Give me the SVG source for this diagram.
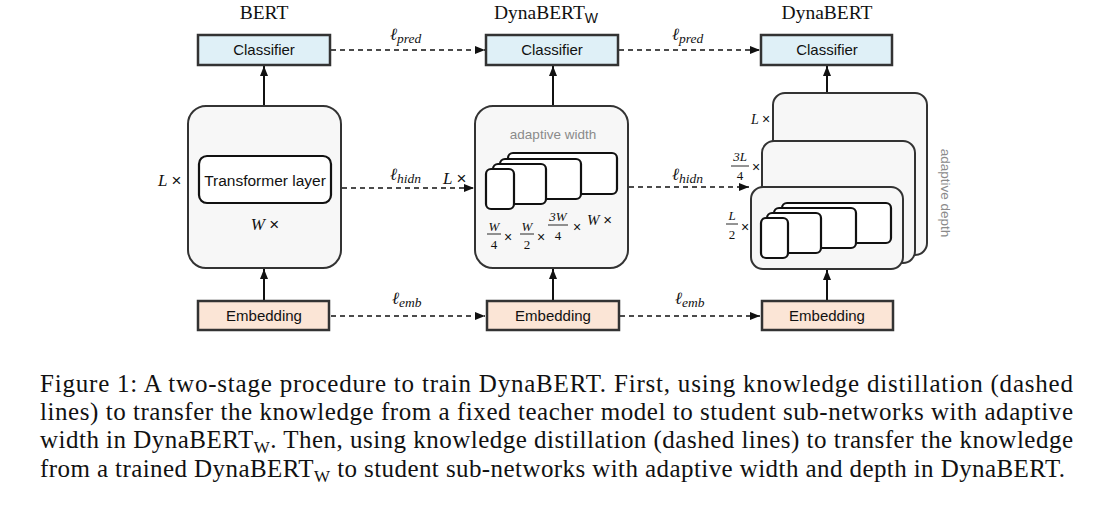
<svg xmlns="http://www.w3.org/2000/svg" width="1110" height="506" viewBox="0 0 1110 506">
<defs>
<marker id="ah" markerUnits="userSpaceOnUse" markerWidth="10" markerHeight="8" refX="10" refY="4" orient="auto"><path d="M0,0 L10,4 L0,8 z" fill="#111"/></marker>
<style>
.title{font-family:"Liberation Serif",serif;font-size:19.5px;fill:#111;text-anchor:middle}
.sans{font-family:"Liberation Sans",Arial,sans-serif;fill:#111;text-anchor:middle}
.lab{font-size:15px}
.gray{font-family:"Liberation Sans",Arial,sans-serif;font-size:13.5px;fill:#8a8a8a;text-anchor:middle}
.cls{fill:#dff0f7;stroke:#333;stroke-width:2.5}
.emb{fill:#fbe5d6;stroke:#333;stroke-width:2.5}
.big{fill:#f7f7f7;stroke:#333;stroke-width:2}
.in{fill:#fff;stroke:#111;stroke-width:2.2}
.math{font-family:"Liberation Serif","DejaVu Serif",serif;font-style:italic;fill:#111}
.ell{font-family:"DejaVu Serif","Liberation Serif",serif;font-style:italic;font-size:17px;fill:#111}
.sub{font-family:"Liberation Serif",serif;font-style:italic;font-size:13.5px}
.fr{font-family:"Liberation Serif",serif;font-size:13px;fill:#111;text-anchor:middle}
.x{font-family:"Liberation Sans",sans-serif;font-size:14px;fill:#111;text-anchor:middle}
.frb{stroke:#111;stroke-width:0.9}
.solid{stroke:#111;stroke-width:2;fill:none}
.dash{stroke:#111;stroke-width:1.5;stroke-dasharray:5,4;fill:none}
.cap{font-family:"Liberation Serif","Times New Roman",serif;font-size:25px;fill:#111}
</style>
</defs>
<rect width="1110" height="506" fill="#fff"/>

<g id="titles">
<text class="title" x="264" y="19">BERT</text>
<text class="title" x="546" y="19">DynaBERT<tspan font-family="Liberation Sans, sans-serif" font-size="14" dy="4">W</tspan></text>
<text class="title" x="827" y="19">DynaBERT</text>
</g>

<g id="connectors">
<line class="solid" x1="264" y1="106" x2="264" y2="66" marker-end="url(#ah)"/>
<line class="solid" x1="264" y1="301" x2="264" y2="269" marker-end="url(#ah)"/>
<line class="solid" x1="553" y1="106" x2="553" y2="66" marker-end="url(#ah)"/>
<line class="solid" x1="553" y1="301" x2="553" y2="269" marker-end="url(#ah)"/>
<line class="solid" x1="827" y1="93" x2="827" y2="66" marker-end="url(#ah)"/>
<line class="solid" x1="827" y1="301" x2="827" y2="270" marker-end="url(#ah)"/>
<line class="dash" x1="331" y1="50" x2="485" y2="50" marker-end="url(#ah)"/>
<line class="dash" x1="619" y1="50" x2="760" y2="50" marker-end="url(#ah)"/>
<line class="dash" x1="342" y1="188" x2="474" y2="188" marker-end="url(#ah)"/>
<line class="dash" x1="629" y1="187" x2="749" y2="187" marker-end="url(#ah)"/>
<line class="dash" x1="331" y1="316" x2="485" y2="316" marker-end="url(#ah)"/>
<line class="dash" x1="620" y1="316" x2="760" y2="316" marker-end="url(#ah)"/>
<text class="ell" x="390" y="40">ℓ<tspan class="sub" dy="3">pred</tspan></text>
<text class="ell" x="672" y="40">ℓ<tspan class="sub" dy="3">pred</tspan></text>
<text class="ell" x="390" y="180">ℓ<tspan class="sub" dy="3">hidn</tspan></text>
<text class="ell" x="672" y="180">ℓ<tspan class="sub" dy="3">hidn</tspan></text>
<text class="ell" x="392" y="304">ℓ<tspan class="sub" dy="3">emb</tspan></text>
<text class="ell" x="675" y="304">ℓ<tspan class="sub" dy="3">emb</tspan></text>
</g>

<g id="bert-classifier">
<rect class="cls" x="198" y="35" width="132" height="30"/>
<text class="sans lab" x="264" y="55">Classifier</text>
</g>
<g id="dynaw-classifier">
<rect class="cls" x="486" y="35" width="132" height="30"/>
<text class="sans lab" x="552" y="55">Classifier</text>
</g>
<g id="dyna-classifier">
<rect class="cls" x="761" y="35" width="131" height="30"/>
<text class="sans lab" x="827" y="55">Classifier</text>
</g>

<g id="bert-embedding">
<rect class="emb" x="198" y="301" width="131" height="29"/>
<text class="sans lab" x="264" y="321">Embedding</text>
</g>
<g id="dynaw-embedding">
<rect class="emb" x="487" y="301" width="132" height="29"/>
<text class="sans lab" x="553" y="321">Embedding</text>
</g>
<g id="dyna-embedding">
<rect class="emb" x="762" y="301" width="131" height="29"/>
<text class="sans lab" x="827" y="321">Embedding</text>
</g>

<g id="bert-encoder">
<rect class="big" x="188" y="106" width="153" height="162" rx="18"/>
<rect class="in" x="199" y="156" width="132" height="47" rx="8"/>
<text class="sans" x="265" y="186" font-size="15.5">Transformer layer</text>
<text class="math" x="158" y="186" font-size="17">L <tspan font-style="normal" font-family="Liberation Sans, sans-serif">×</tspan></text>
<text class="math" x="265" y="230" font-size="17" text-anchor="middle">W <tspan font-style="normal" font-family="Liberation Sans, sans-serif">×</tspan></text>
</g>

<g id="dynaw-encoder">
<rect class="big" x="475" y="106" width="153" height="162" rx="18"/>
<text class="gray" x="553" y="139">adaptive width</text>
<rect class="in" x="508" y="153" width="109" height="41" rx="5"/>
<rect class="in" x="500" y="159" width="81" height="40" rx="5"/>
<rect class="in" x="493" y="164" width="53" height="40" rx="5"/>
<rect class="in" x="486" y="169" width="28" height="40" rx="5"/>
<text class="math" x="443" y="184" font-size="17">L <tspan font-style="normal" font-family="Liberation Sans, sans-serif">×</tspan></text>
<text class="fr" x="494" y="231" font-style="italic">W</text>
<line class="frb" x1="487" y1="234" x2="501" y2="234"/>
<text class="fr" x="494" y="249">4</text>
<text class="x" x="508" y="242">×</text>
<text class="fr" x="527" y="231" font-style="italic">W</text>
<line class="frb" x1="520" y1="234" x2="534" y2="234"/>
<text class="fr" x="527" y="249">2</text>
<text class="x" x="541" y="242">×</text>
<text class="fr" x="558" y="221" font-style="italic">3W</text>
<line class="frb" x1="548" y1="225" x2="568" y2="225"/>
<text class="fr" x="558" y="240">4</text>
<text class="x" x="577" y="232">×</text>
<text class="math" x="587" y="225" font-size="15">W <tspan font-style="normal" font-family="Liberation Sans, sans-serif">×</tspan></text>
</g>

<g id="dyna-encoder">
<rect class="big" x="773" y="93" width="154" height="162" rx="12"/>
<rect class="big" x="762" y="141" width="153" height="122" rx="12"/>
<rect class="big" x="751" y="187" width="152" height="82" rx="12"/>
<rect class="in" x="782" y="203" width="109" height="40" rx="5"/>
<rect class="in" x="774" y="208" width="82" height="40" rx="5"/>
<rect class="in" x="767" y="213" width="54" height="40" rx="5"/>
<rect class="in" x="761" y="218" width="27" height="40" rx="5"/>
<text class="math" x="751" y="124" font-size="14">L <tspan font-style="normal" font-family="Liberation Sans, sans-serif">×</tspan></text>
<text class="fr" x="740" y="161" font-style="italic">3L</text>
<line class="frb" x1="731" y1="166" x2="749" y2="166"/>
<text class="fr" x="740" y="180">4</text>
<text class="x" x="756" y="172">×</text>
<text class="fr" x="732" y="220" font-style="italic">L</text>
<line class="frb" x1="726" y1="224" x2="738" y2="224"/>
<text class="fr" x="732" y="239">2</text>
<text class="x" x="745" y="232">×</text>
<text class="gray" x="0" y="0" transform="translate(941,193) rotate(90)">adaptive depth</text>
</g>

<g id="caption">
<text class="cap" x="40" y="392" textLength="1033" lengthAdjust="spacing">Figure 1: A two-stage procedure to train DynaBERT. First, using knowledge distillation (dashed</text>
<text class="cap" x="40" y="420" textLength="1033" lengthAdjust="spacing">lines) to transfer the knowledge from a fixed teacher model to student sub-networks with adaptive</text>
<text class="cap" x="40" y="448" textLength="1033" lengthAdjust="spacing">width in DynaBERT<tspan font-size="17" dy="5">W</tspan><tspan dy="-5">. Then, using knowledge distillation (dashed lines) to transfer the knowledge</tspan></text>
<text class="cap" x="40" y="477" textLength="1025" lengthAdjust="spacing">from a trained DynaBERT<tspan font-size="17" dy="5">W</tspan><tspan dy="-5"> to student sub-networks with adaptive width and depth in DynaBERT.</tspan></text>
</g>
</svg>
